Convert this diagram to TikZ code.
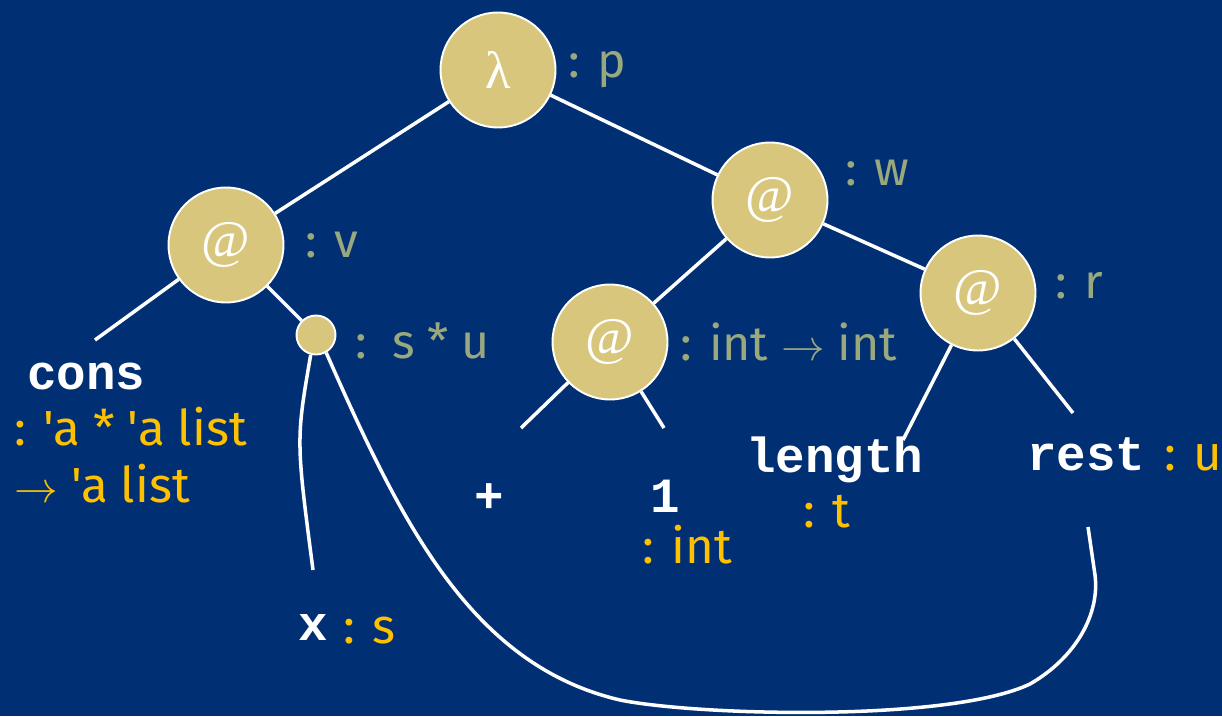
\documentclass[tikz,border=0pt]{standalone}
\usepackage{fontspec}
\setmainfont{Fira Sans}[Ligatures=TeXOff]
\setmonofont{Liberation Mono}
\newfontfamily\glyphfont{Liberation Serif}
\definecolor{bg}{RGB}{0,48,115}
\definecolor{nodefill}{RGB}{216,198,124}
\definecolor{lblgreen}{RGB}{153,168,125}
\definecolor{typeorange}{RGB}{255,192,0}
\tikzset{
  appnode/.style={circle, fill=nodefill, draw=white, line width=1.1pt, minimum size=2.3cm, inner sep=0pt, text=white, font=\glyphfont\fontsize{30}{30}\selectfont},
  dotnode/.style={circle, fill=nodefill, draw=white, line width=1.1pt, minimum size=0.78cm, inner sep=0pt},
  edge/.style={white, line width=2pt},
  greenlbl/.style={anchor=base west, inner sep=0pt, text=lblgreen, font=\fontsize{27.5}{30}\selectfont},
  orangelbl/.style={anchor=base west, inner sep=0pt, text=typeorange, font=\fontsize{28}{30}\selectfont},
  codelbl/.style={anchor=base west, inner sep=0pt, text=white, font=\ttfamily\bfseries\fontsize{28}{30}\selectfont},
}
\begin{document}
\begin{tikzpicture}[x=0.02cm, y=-0.02cm]
\fill[bg] (0,0) rectangle (1222,716);
\useasboundingbox (0,0) rectangle (1222,716);

% tree nodes
\node[appnode] (lam) at (498,70) {λ};
\node[appnode] (v) at (226,245) {@};
\node[appnode] (w) at (770,200) {@};
\node[appnode] (ii) at (610,342) {@};
\node[appnode] (r) at (978,293) {@};
\node[dotnode] (dot) at (316,335) {};

% free ends
\coordinate (consend) at (95,340);
\coordinate (xend) at (313,570);
\coordinate (plusend) at (521,428);
\coordinate (oneend) at (664,428);
\coordinate (lenend) at (903,440);
\coordinate (restend) at (1073,413);
\coordinate (restlink) at (1088,527);

% connectors
\draw[edge] (lam) -- (v);
\draw[edge] (lam) -- (w);
\draw[edge] (v) -- (consend);
\draw[edge] (v) -- (dot);
\draw[edge] (w) -- (ii);
\draw[edge] (w) -- (r);
\draw[edge] (ii) -- (plusend);
\draw[edge] (ii) -- (oneend);
\draw[edge] (r) -- (lenend);
\draw[edge] (r) -- (restend);
\draw[edge] (dot.255) .. controls (296,440) .. (xend);
\draw[edge] (dot.-60) .. controls (400,520) and (470,665) .. (620,700)
  .. controls (700,716) and (950,722) .. (1030,684)
  .. controls (1075,658) and (1100,615) .. (1095,575) -- (restlink);

% type labels (green)
\node[greenlbl] (tp) at (568,78) {: p};
\node[greenlbl] (tv) at (305,257) {: v};
\node[greenlbl] (tw) at (845,185) {: w};
\node[greenlbl] (tr) at (1055,298) {: r};
\node[greenlbl] (tsu) at (355,358) {:~~s * u};
\node[greenlbl] (tii) at (680,360) {: int $\rightarrow$ int};

% code labels
\node[codelbl] (cons) at (27,389) {cons};
\node[codelbl] (plus) at (474,512) {+};
\node[codelbl] (one) at (650,512) {1};
\node[codelbl] (length) at (746,472) {length};
\node[codelbl] (rest) at (1027,470) {rest};
\node[codelbl] (xx) at (298,640) {x};

% orange type labels
\node[orangelbl] (tcons1) at (14,445) {: 'a * 'a list};
\node[orangelbl] (tcons2) at (14,502) {$\rightarrow$ 'a list};
\node[orangelbl] (tone) at (642,563) {: int};
\node[orangelbl] (tt) at (803,527) {: t};
\node[orangelbl] (tu) at (1164,470) {: u};
\node[orangelbl] (ts) at (343,643) {: s};
\end{tikzpicture}
\end{document}
